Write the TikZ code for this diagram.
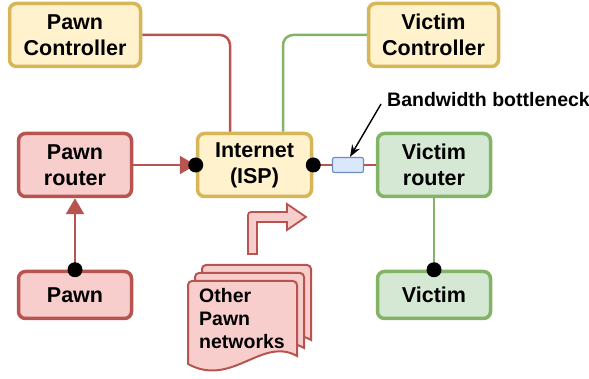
\documentclass[tikz,border=0pt]{standalone}
\usepackage{fontspec}
\setmainfont{Liberation Sans}
\usetikzlibrary{arrows.meta}
\definecolor{rfill}{HTML}{F8CECC}\definecolor{rline}{HTML}{B85450}
\definecolor{yfill}{HTML}{FFF2CC}\definecolor{yline}{HTML}{D6B656}
\definecolor{gfill}{HTML}{D5E8D4}\definecolor{gline}{HTML}{82B366}
\definecolor{bfill}{HTML}{DAE8FC}\definecolor{bline}{HTML}{6C8EBF}
\tikzset{
 box/.style={draw,line width=3.5pt,rounded corners=7pt,align=center,inner sep=0pt,
  font=\bfseries\fontsize{21.5}{26}\selectfont},
 redbox/.style={box,fill=rfill,draw=rline},
 yelbox/.style={box,fill=yfill,draw=yline},
 grnbox/.style={box,fill=gfill,draw=gline},
 redlink/.style={draw=rline,line width=2.5pt},
 grnlink/.style={draw=gline,line width=2.5pt},
 dot/.style={fill=black}
}
\begin{document}
\begin{tikzpicture}[x=1pt,y=-1pt]
\useasboundingbox (0,0) rectangle (589,379);
\node[yelbox,minimum width=131pt,minimum height=63pt] (pctrl) at (75,35) {Pawn\\Controller};
\node[yelbox,minimum width=130pt,minimum height=63pt] (vctrl) at (433.5,35) {Victim\\Controller};
\node[redbox,minimum width=113pt,minimum height=63pt] (prouter) at (75,165) {Pawn\\router};
\node[yelbox,minimum width=114pt,minimum height=63pt] (isp) at (254.5,165) {Internet\\(ISP)};
\node[grnbox,minimum width=113pt,minimum height=63pt] (vrouter) at (434,165) {Victim\\router};
\node[redbox,minimum width=113pt,minimum height=47pt] (pawn) at (75,295) {Pawn};
\node[grnbox,minimum width=113pt,minimum height=47pt] (victim) at (434,295) {Victim};
\node[draw=bline,fill=bfill,line width=1.2pt,rounded corners=2pt,minimum width=31pt,minimum height=15pt,inner sep=0pt] (bneck) at (348,165) {};
\node[anchor=west,font=\bfseries\fontsize{19.5}{22}\selectfont,inner sep=0pt] (bwlabel) at (387,100) {Bandwidth bottleneck};
% links
\draw[redlink,rounded corners=10pt] (pctrl.east) -| ([xshift=-24.5pt]isp.north);
\draw[grnlink,rounded corners=10pt] (vctrl.west) -| ([xshift=28.5pt]isp.north);
\draw[redlink,-{Triangle[length=16pt,width=18pt]}] (prouter) -- (isp.west);
\draw[redlink,-{Triangle[length=16pt,width=18pt]}] (pawn.north) -- (prouter.south);
\draw[redlink] (isp.east) -- (bneck) (bneck) -- (vrouter);
\draw[grnlink] (vrouter) -- (victim.north);
\draw[line width=1.4pt,-{Stealth[length=12pt,width=9pt]}] ([shift={(-6,4)}]bwlabel.west) -- ([xshift=2pt]bneck.north);
\foreach \n in {isp.west,isp.east,pawn.north,victim.north} \fill[dot] (\n) circle (7.5);
% other pawn networks
\draw[draw=rline,fill=rfill,line width=1.8pt,rounded corners=3pt] (248,254) -- (248,212) [sharp corners] -- (287,212) -- (287,204) -- (306,217) -- (287,230) -- (287,222) -- (257,222) -- (257,254) -- cycle;
\foreach \o in {2,1,0}
 \draw[draw=rline,fill=rfill,line width=2pt,shift={(7*\o,-8*\o)}] (188,364) [rounded corners=4pt] -- (188,281) -- (297,281) [sharp corners] -- (297,356) .. controls (262,336) and (232,388) .. (188,364) -- cycle;
\node[anchor=north west,align=left,inner sep=0pt,font=\bfseries\fontsize{19.5}{23}\selectfont] (others) at (199,288) {Other\\Pawn\\networks};
\end{tikzpicture}
\end{document}
